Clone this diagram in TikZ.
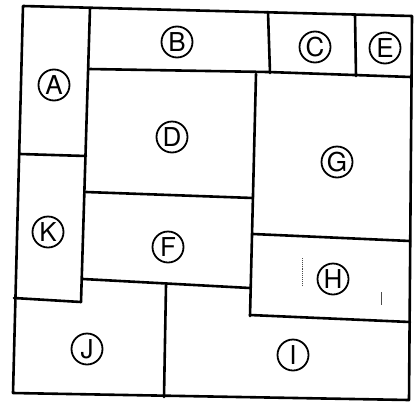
\documentclass[tikz,border=0pt]{standalone}
\usepackage{fontspec}
\setmainfont{TeX Gyre Heros}
\usetikzlibrary{positioning,calc}
\tikzset{
  wall/.style={line width=2.6pt, line cap=round, line join=round},
  tag/.style={circle, draw, line width=1.8pt, minimum size=31pt, inner sep=0pt, font=\fontsize{26}{26}\selectfont},
  speck/.style={line width=0.9pt, black!70}
}
\begin{document}
\begin{tikzpicture}[x=1pt, y=-1pt]
  \useasboundingbox (0,0) rectangle (417,402);
  %% outer frame
  \coordinate (tl) at (23,6);
  \coordinate (tr) at (412,16);
  \coordinate (br) at (409,400);
  \coordinate (bl) at (13,393);
  \draw[wall] (tl) -- (tr) -- (br) -- (bl) -- cycle;

  %% inner walls (left half)
  \draw[wall] (90,8) -- (81,302);
  \draw[wall] (20,154) -- (86,156);
  \draw[wall] (14,298) -- (81,302);
  \draw[wall] (83,279) -- (250,288);
  \draw[wall] (166,285) -- (164,397);
  \draw[wall] (86,192) -- (253,198);

  %% inner walls (right half)
  \draw[wall] (89,69) -- (268,72) -- (411,77);
  \draw[wall] (268,12) -- (270,73);
  \draw[wall] (355,15) -- (356,76);
  \draw[wall] (256,74) -- (250,316);
  \draw[wall] (253,234) -- (410,241);
  \draw[wall] (250,315) -- (410,322);

  %% scan marks in H
  \draw[speck, densely dotted] (302,258) -- (302,285);
  \draw[speck] (381,292) -- (381,305);

  %% rooms
  \node[tag] (roomA) at (54,85)   {A};
  \node[tag] (roomB) at (177,42)  {B};
  \node[tag] (roomC) at (315,47)  {C};
  \node[tag] (roomD) at (172,137) {D};
  \node[tag] (roomE) at (385,48)  {E};
  \node[tag] (roomF) at (168,247) {F};
  \node[tag] (roomG) at (337,162) {G};
  \node[tag] (roomH) at (333,279) {H};
  \node[tag] (roomI) at (293,355) {I};
  \node[tag] (roomJ) at (87,349)  {J};
  \node[tag] (roomK) at (48,232)  {K};
\end{tikzpicture}
\end{document}
